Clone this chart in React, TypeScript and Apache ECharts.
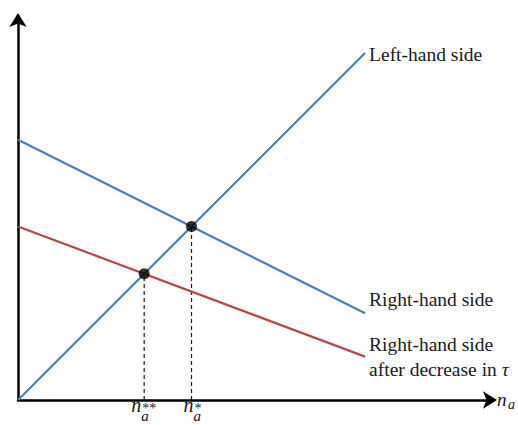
import React, { useEffect, useRef } from "react";
import * as echarts from "echarts";

// Curves: x positions of the two end points and the curve values there
const lineX = [0, 10];
const leftHandSide = [0, 10];
const rightHandSide = [7.5, 2.5];
const rightHandSideAfter = [5, 1.25];

// Equilibria (intersection points)
const eqX = [5, 3.636];
const eqY = [5, 3.636];
const eqStars = ["*", "**"];

const lhsLabel = "Left-hand side";
const rhsLabel = "Right-hand side";
const rhsAfterLabel = "Right-hand side\nafter decrease in {t|τ}";
const varName = "n";
const varSub = "a";

const X_MAX = 13.6;
const Y_MAX = 10.95;

const BLUE = "#4a80b4";
const RED = "#b84848";
const INK = "#1a1a1a";
const FONT = "Liberation Serif";
const FS = 19.5;

export default function App() {
  const ref = useRef<HTMLDivElement>(null);
  useEffect(() => {
    if (!ref.current) return;
    const chart = echarts.init(ref.current, undefined, { renderer: "svg" });
    const pts = (ys: number[]) => lineX.map((x, i) => [x, ys[i]]);
    const endLabel = (text: string, offset: number[]) => ({
      show: true,
      formatter: text,
      color: INK,
      fontFamily: FONT,
      fontSize: FS,
      lineHeight: 25,
      distance: 4,
      offset,
      align: "left",
      rich: { t: { fontFamily: FONT, fontStyle: "italic", fontSize: FS, color: INK } },
    });
    const dashed = eqX.map((x, i) => ({
      type: "line",
      data: [
        [x, 0],
        [x, eqY[i]],
      ],
      symbol: "none",
      lineStyle: { color: INK, width: 1.2, type: [4, 3] },
      z: 1,
    }));
    const axisLine = {
      onZero: false,
      symbol: ["none", "arrow"],
      symbolSize: [13, 14],
      symbolOffset: [0, 7],
      lineStyle: { color: "#000", width: 2.5 },
    };
    chart.setOption({
      animation: false,
      grid: { left: 18, right: 28, top: 20, bottom: 25, containLabel: false },
      xAxis: {
        type: "value",
        min: 0,
        max: X_MAX,
        splitLine: { show: false },
        axisTick: { show: false },
        axisLabel: { show: false },
        axisLine,
      },
      yAxis: {
        type: "value",
        min: 0,
        max: Y_MAX,
        splitLine: { show: false },
        axisTick: { show: false },
        axisLabel: { show: false },
        axisLine,
      },
      series: [
        {
          type: "line",
          data: pts(leftHandSide),
          symbol: "none",
          lineStyle: { color: BLUE, width: 2.2 },
          endLabel: endLabel(lhsLabel, [0, 2]),
          z: 2,
        },
        {
          type: "line",
          data: pts(rightHandSide),
          symbol: "none",
          lineStyle: { color: BLUE, width: 2.2 },
          endLabel: endLabel(rhsLabel, [0, -14]),
          z: 2,
        },
        {
          type: "line",
          data: pts(rightHandSideAfter),
          symbol: "none",
          lineStyle: { color: RED, width: 2.2 },
          endLabel: endLabel(rhsAfterLabel, [0, 0]),
          z: 2,
        },
        ...dashed,
        {
          type: "scatter",
          data: eqX.map((x, i) => [x, eqY[i]]),
          symbolSize: 11,
          itemStyle: { color: "#000" },
          z: 5,
        },
      ],
    });

    // Axis-position labels (n_a with stars), anchored through the axis scales
    const toPx = (x: number, y: number) =>
      chart.convertToPixel({ xAxisIndex: 0, yAxisIndex: 0 }, [x, y]) as number[];
    const txt = (
      x: number,
      y: number,
      text: string,
      size: number,
      align: string,
      italic: boolean
    ) => ({
      type: "text",
      x,
      y,
      z: 10,
      silent: true,
      style: {
        text,
        fill: INK,
        fontFamily: FONT,
        fontSize: size,
        fontStyle: italic ? "italic" : "normal",
        align,
        verticalAlign: "middle",
      },
    });
    const nRight = (s: string) => 7 - 5 * s.length;
    const elements: any[] = [];
    eqX.forEach((x, i) => {
      const [px, py] = toPx(x, 0);
      const r = px + nRight(eqStars[i]);
      elements.push(txt(r, py + 5, varName, 20, "right", true));
      elements.push(txt(r, py + 16, varSub, 15, "left", true));
      elements.push(txt(r + 1, py + 8, eqStars[i], 14, "left", false));
    });
    const [ex, ey] = toPx(X_MAX, 0);
    elements.push(txt(ex + 7, ey - 1, varName, 19, "left", true));
    elements.push(txt(ex + 18, ey + 4, varSub, 14, "left", true));
    chart.setOption({ graphic: elements });

    return () => chart.dispose();
  }, []);
  return (
    <div
      ref={ref}
      style={{ position: "fixed", left: 0, top: 0, width: 518, height: 425, background: "#fff" }}
    />
  );
}
